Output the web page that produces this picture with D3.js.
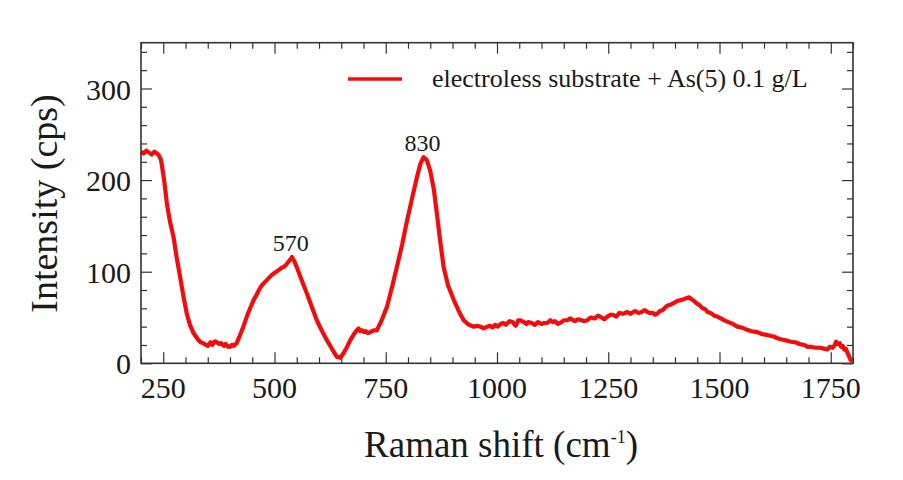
<!DOCTYPE html>
<html><head><meta charset="utf-8">
<script src="https://cdn.jsdelivr.net/npm/d3@7"></script>
<style>body{margin:0;background:#fff}svg{display:block}text{font-family:"Liberation Serif","Times New Roman",serif;fill:#1a1a1a}</style>
</head><body><svg id="c" width="903" height="480"></svg>
<script>
const shift = [200,206,212,218,224,230,236,240,245,252,258,265,273,280,288,295,303,310,318,328,334,340,346,350,356,360,366,370,376,380,386,390,396,400,404,408,415,422,430,440,447,453,460,465,470,475,481,487,493,498,504,510,515,520,525,530,535,539,545,550,560,573,585,595,607,618,630,640,648,655,662,670,680,685,689,693,697,701,705,710,715,723,730,740,753,765,775,787,798,810,820,828,835,842,850,858,865,872,880,890,903,915,925,937,948,955,963,970,978,984,990,996,1002,1008,1014,1020,1028,1035,1042,1048,1053,1060,1066,1070,1078,1085,1092,1100,1106,1113,1120,1125,1130,1137,1145,1150,1158,1165,1175,1182,1190,1196,1203,1210,1220,1227,1235,1241,1248,1255,1260,1268,1275,1283,1293,1300,1310,1318,1325,1332,1338,1344,1350,1355,1360,1366,1372,1378,1383,1390,1398,1405,1413,1420,1425,1432,1437,1440,1445,1450,1456,1462,1468,1473,1480,1488,1495,1503,1510,1520,1530,1540,1550,1560,1572,1585,1595,1605,1614,1623,1632,1640,1650,1660,1670,1680,1690,1698,1706,1715,1725,1735,1742,1748,1754,1758,1762,1765,1770,1773,1777,1780,1784,1788,1791,1794,1798];
const intensity = [231,229,232,230,228,231,229,227,222,200,175,155,138,116,94,74,54,42,33,26,23,22,20,19,23,20,24,23,21,22,19,21,18,18,20,19,22,30,40,54,62,69,75,80,84,87,90,93,96,98,100,102,104,105,107,110,113,116,111,105,92,76,60,47,35,25,15,7,6,11,17,25,33,36,38,35,36,34,35,33,34,36,36,46,62,85,105,130,156,182,203,218,225,222,210,190,163,135,105,85,69,56,47,42,40,41,40,38,40,41,39,42,40,43,44,42,46,45,41,47,47,45,43,45,44,42,45,43,44,44,47,45,46,43,45,47,47,49,46,48,47,46,47,50,49,52,50,48,51,53,53,51,55,54,56,54,57,55,56,58,56,55,55,53,54,57,58,61,63,64,66,68,69,70,71,72,70,69,67,65,63,60,59,56,55,52,51,49,47,45,43,40,39,37,35,34,32,31,30,29,27,26,25,23.5,23,21,20,18,18,17,17,16,15,18,17,19,23.5,21,22,18,19,15,16,11,8,4,2];
const xTicks = [250,500,750,1000,1250,1500,1750];
const yTicks = [0,100,200,300];
const peakLabels = ["570","830"];
const peakPos = [[539,116],[835,225]];
const seriesName = "electroless substrate + As(5) 0.1 g/L";

const svg = d3.select("#c");
const L=141, R=853, T=42.7, B=363.3;
const x = d3.scaleLinear().domain([200,1800]).range([L,R]);
const y = d3.scaleLinear().domain([0,350]).range([B,T]);
const minorX = d3.range(200,1801,50).filter(v=>!xTicks.includes(v));
const minorY = d3.range(0,351,20).filter(v=>!yTicks.includes(v));

function tickAxis(gen, scale, vals, size, tr){
  const g = svg.append("g").attr("transform",tr).call(gen(scale).tickValues(vals).tickSize(-size).tickFormat(""));
  g.select(".domain").remove();
  g.selectAll("line").attr("stroke","#333").attr("stroke-width",1.2);
  return g;
}
tickAxis(d3.axisBottom,x,xTicks,11,`translate(0,${B})`);
tickAxis(d3.axisBottom,x,minorX,6,`translate(0,${B})`);
tickAxis(d3.axisTop,x,xTicks,11,`translate(0,${T})`);
tickAxis(d3.axisTop,x,minorX,6,`translate(0,${T})`);
tickAxis(d3.axisLeft,y,yTicks,11,`translate(${L},0)`);
tickAxis(d3.axisLeft,y,minorY,6,`translate(${L},0)`);
tickAxis(d3.axisRight,y,yTicks,11,`translate(${R},0)`);
tickAxis(d3.axisRight,y,minorY,6,`translate(${R},0)`);

// tick labels
svg.append("g").selectAll("text").data(xTicks).join("text")
  .attr("x",d=>x(d)).attr("y",B+35).attr("text-anchor","middle").attr("font-size",30).text(d=>d);
svg.append("g").selectAll("text").data(yTicks).join("text")
  .attr("x",L-10).attr("y",d=>y(d)+11).attr("text-anchor","end").attr("font-size",30).text(d=>d);

// line
const data = shift.map((s,i)=>[s,intensity[i]]);
svg.append("path").datum(data).attr("fill","none").attr("stroke","#f20c0c").attr("stroke-width",4.2)
  .attr("stroke-linejoin","round").attr("d",d3.line().x(d=>x(d[0])).y(d=>y(d[1])));

// frame
svg.append("rect").attr("x",L).attr("y",T).attr("width",R-L).attr("height",B-T)
  .attr("fill","none").attr("stroke","#333").attr("stroke-width",1.6);

// peak labels
svg.append("g").selectAll("text").data(peakLabels).join("text")
  .attr("x",(d,i)=>x(peakPos[i][0])-1).attr("y",(d,i)=>y(peakPos[i][1])-6.5)
  .attr("text-anchor","middle").attr("font-size",24).text(d=>d);

// legend
svg.append("line").attr("x1",348).attr("x2",402).attr("y1",79).attr("y2",79).attr("stroke","#f20c0c").attr("stroke-width",3.6);
svg.append("text").attr("x",432).attr("y",87).attr("font-size",26).text(seriesName);

// axis titles
svg.append("text").attr("transform","translate(57,203.5) rotate(-90)").attr("text-anchor","middle").attr("font-size",38).text("Intensity (cps)");
const xt = svg.append("text").attr("x",501).attr("y",457).attr("text-anchor","middle").attr("font-size",37);
xt.append("tspan").text("Raman shift (cm");
xt.append("tspan").attr("dy",-14).attr("font-size",18).text("-1");
xt.append("tspan").attr("dy",14).text(")");
</script></body></html>
